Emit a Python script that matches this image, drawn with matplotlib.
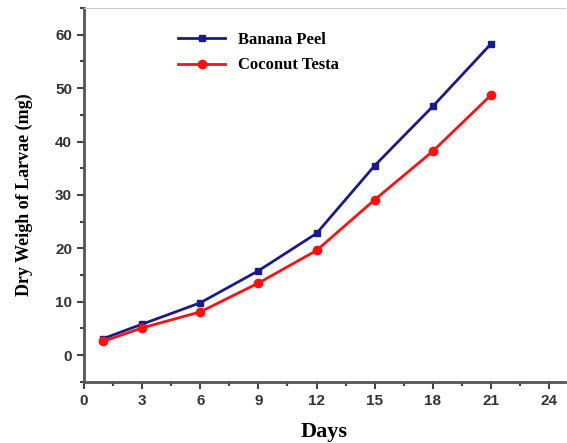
import matplotlib
matplotlib.use("Agg")
import matplotlib.pyplot as plt
from matplotlib.ticker import MultipleLocator

days = [1, 3, 6, 9, 12, 15, 18, 21]
banana_peel = [3.1, 5.8, 9.8, 15.8, 22.8, 35.5, 46.6, 58.3]
coconut_testa = [2.6, 5.1, 8.1, 13.5, 19.6, 29.1, 38.2, 48.7]

fig = plt.figure(figsize=(5.67, 4.43), dpi=100)
ax = fig.add_axes([0.148, 0.138, 0.848, 0.844])

ax.plot(days, banana_peel, color="#1a1a8c", marker="s", markersize=5, lw=2, label="Banana Peel")
ax.plot(days, coconut_testa, color="#ff1010", marker="o", markersize=6, lw=2, label="Coconut Testa")

ax.set_xlim(0, 24.8)
ax.set_ylim(-5, 65)
ax.set_xticks(range(0, 25, 3))
ax.set_yticks(range(0, 61, 10))
ax.xaxis.set_minor_locator(MultipleLocator(1.5))
ax.yaxis.set_minor_locator(MultipleLocator(5))
ax.tick_params(which="major", direction="out", length=5, width=1.5, colors="#444444",
               labelsize=11, labelcolor="#333333")
ax.tick_params(which="minor", direction="out", length=3, width=1.5, colors="#444444")
for lbl in ax.get_xticklabels() + ax.get_yticklabels():
    lbl.set_family("Liberation Sans")
    lbl.set_fontweight("bold")

for s in ["left", "bottom"]:
    ax.spines[s].set_linewidth(2)
    ax.spines[s].set_color("#555555")
ax.spines["top"].set_color("#cccccc")
ax.spines["right"].set_visible(False)

ax.set_xlabel("Days", family="Liberation Serif", fontweight="bold", fontsize=16, labelpad=10)
ax.set_ylabel("Dry Weigh of Larvae (mg)", family="Liberation Serif", fontweight="bold",
              fontsize=13, labelpad=16)

leg = ax.legend(loc="upper left", bbox_to_anchor=(0.165, 0.975), frameon=False,
                prop={"family": "Liberation Serif", "weight": "bold", "size": 12},
                handlelength=2.8, labelspacing=0.55)

fig.savefig("out.png", dpi=100)
